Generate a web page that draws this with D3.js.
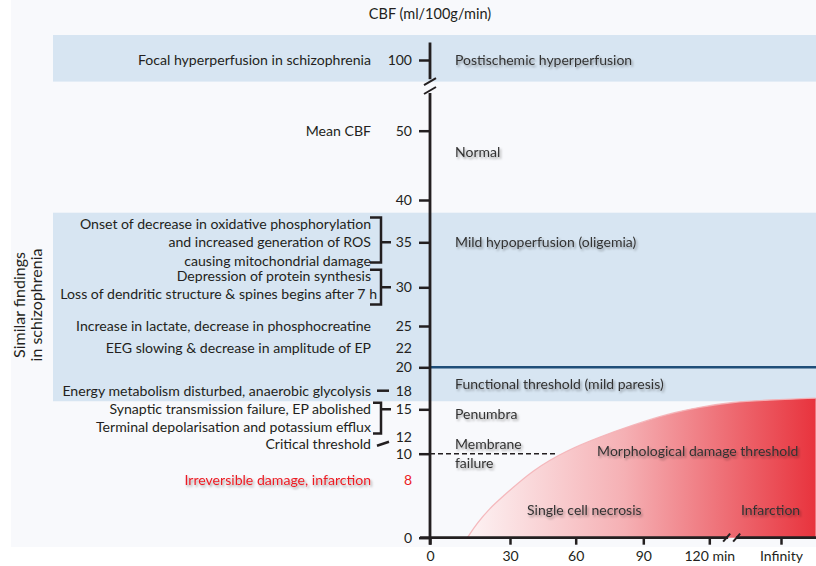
<!DOCTYPE html>
<html><head><meta charset="utf-8">
<script src="https://cdn.jsdelivr.net/npm/d3@7"></script>
<style>
body{margin:0;background:#fff}
svg{display:block}
text{font-family:Lato,"Open Sans",sans-serif}
</style>
</head><body>
<svg id="chart" width="816" height="566"></svg>
<script>
// ---------------- data ----------------
const yTickValues = [0, 10, 15, 20, 25, 30, 35, 40, 50, 100];
const yLabelOnlyValues = [8, 12, 18, 22];
const xTickValues = [0, 30, 60, 90, 120, 180];
const xTickLabels = ["0", "30", "60", "90", "120 min", "Infinity"];

// shaded CBF bands [low, high]
const bandLow = [16.3, 91];
const bandHigh = [38.5, 110];

// findings (left side), grouped by CBF level
const findingValues = [100, 50, 35, 30, 25, 22, 18, 15, 12, 8];
const findingTexts = [
  ["Focal hyperperfusion in schizophrenia"],
  ["Mean CBF"],
  ["Onset of decrease in oxidative phosphorylation", "and increased generation of ROS", "causing  mitochondrial damage"],
  ["Depression of protein synthesis", "Loss of dendritic structure & spines begins after 7 h"],
  ["Increase in lactate, decrease in phosphocreatine"],
  ["EEG slowing & decrease in amplitude of EP"],
  ["Energy metabolism disturbed, anaerobic glycolysis"],
  ["Synaptic transmission failure, EP abolished", "Terminal depolarisation and potassium efflux"],
  ["Critical threshold"],
  ["Irreversible damage, infarction"]
];

// zone labels (right of axis)
const zoneTexts = [["Postischemic hyperperfusion"], ["Normal"], ["Mild hypoperfusion (oligemia)"],
  ["Functional threshold (mild paresis)"], ["Penumbra"], ["Membrane", "failure"]];
const zoneValues = [100, 46.9, 35, 18.6, 14.5, 10];

// morphological damage threshold curve (time in min, CBF)
const thresholdTime = [14, 17.6, 22.5, 26.3, 40.5, 56, 70.8, 85.4, 100.8, 115.8, 139.8, 168.3, 209];
const thresholdCBF  = [0, 2.0, 4.1, 5.37, 8.8, 10.4, 12, 13.28, 14.49, 15.37, 16.18, 16.5, 16.8];

const regionTexts = ["Morphological damage threshold", "Single cell necrosis", "Infarction"];
const regionTime = [69.5, 37.8, 146.5];
const regionCBF = [10.3, 3.8, 3.8];

const functionalThreshold = 20;
const membraneFailure = 10;
const membraneLineTime = [0, 51.5];

// ---------------- scales ----------------
const W = 816, H = 566;
const svg = d3.select("#chart");
const y = d3.scaleLinear()
  .domain([0, 8, 10, 12, 15, 18, 20, 22, 25, 30, 35, 40, 50, 55, 90, 100, 110])
  .range([537.7, 480, 453.7, 436.7, 409.3, 390.7, 367.3, 348, 326, 287.3, 242.3, 200, 130.7, 93, 84, 60, 35]);
const x = d3.scaleLinear()
  .domain([0, 30, 60, 90, 120, 180])
  .range([430, 510, 575.7, 643.3, 709.3, 781]);
const ax = x(0);
const ink = "#231f20";
const fsL = 14.1, fsR = 14;

// ---------------- defs ----------------
const defs = svg.append("defs");
const grad = defs.append("linearGradient").attr("id", "redGrad")
  .attr("gradientUnits", "userSpaceOnUse")
  .attr("x1", x(thresholdTime[0])).attr("x2", W).attr("y1", 0).attr("y2", 0);
grad.append("stop").attr("offset", 0).attr("stop-color", "#fdf3f4");
grad.append("stop").attr("offset", 0.45).attr("stop-color", "#f5b0b4");
grad.append("stop").attr("offset", 1).attr("stop-color", "#e8333d");
const f = defs.append("filter").attr("id", "sh").attr("x", "-10%").attr("y", "-40%").attr("width", "130%").attr("height", "200%");
f.append("feDropShadow").attr("dx", 1.5).attr("dy", 2).attr("stdDeviation", 1.3)
  .attr("flood-color", "#000").attr("flood-opacity", 0.35);

// ---------------- background & bands ----------------
svg.append("rect").attr("x", 11).attr("y", 0).attr("width", W - 11).attr("height", 547).attr("fill", "#f8f9fc");
svg.selectAll("rect.band").data(bandLow).join("rect").attr("class", "band")
  .attr("x", 53).attr("width", W - 53)
  .attr("y", (d, i) => y(bandHigh[i]))
  .attr("height", (d, i) => y(d) - y(bandHigh[i]))
  .attr("fill", "#d7e5f2");

// ---------------- red damage area ----------------
const pts = thresholdTime.map((t, i) => [t, thresholdCBF[i]]);
svg.append("path").datum(pts)
  .attr("d", d3.area().x(d => x(d[0])).y0(y(0)).y1(d => y(d[1])).curve(d3.curveBasis))
  .attr("fill", "url(#redGrad)");
svg.append("path").datum(pts)
  .attr("d", d3.line().x(d => x(d[0])).y(d => y(d[1])).curve(d3.curveBasis))
  .attr("fill", "none").attr("stroke", "#f4b3b7").attr("stroke-width", 1.3).attr("opacity", 0.9);

// functional threshold line
svg.append("line").attr("x1", ax).attr("x2", W)
  .attr("y1", y(functionalThreshold)).attr("y2", y(functionalThreshold))
  .attr("stroke", "#1f4e79").attr("stroke-width", 2.5);
// membrane failure dashed line
svg.append("line").attr("x1", x(membraneLineTime[0])).attr("x2", x(membraneLineTime[1]))
  .attr("y1", y(membraneFailure)).attr("y2", y(membraneFailure))
  .attr("stroke", ink).attr("stroke-width", 1.5).attr("stroke-dasharray", "5,3");

// ---------------- axes ----------------
const yAx = svg.append("g").attr("transform", `translate(${ax},0)`)
  .call(d3.axisLeft(y).tickValues(yTickValues).tickSize(11).tickPadding(7));
const yAx2 = svg.append("g").attr("transform", `translate(${ax},0)`)
  .call(d3.axisLeft(y).tickValues(yLabelOnlyValues).tickSize(0).tickPadding(18));
yAx2.selectAll(".tick line").remove();
const xAx = svg.append("g").attr("transform", `translate(0,${y(0)})`)
  .call(d3.axisBottom(x).tickValues(xTickValues).tickFormat((d, i) => xTickLabels[i]).tickSize(7).tickPadding(6));
[yAx, yAx2, xAx].forEach(g => {
  g.select(".domain").remove();
  g.selectAll(".tick line").attr("stroke", ink).attr("stroke-width", 2.5);
  g.selectAll(".tick text").attr("fill", ink).attr("font-size", 14).attr("font-family", "Lato");
});
yAx2.selectAll(".tick text").filter(d => d === 8).attr("fill", "#ec1c24");

// axis lines with breaks
const axisG = svg.append("g").attr("stroke", ink).attr("stroke-width", 2.8).attr("fill", "none");
axisG.append("line").attr("x1", ax).attr("x2", ax).attr("y1", y(107)).attr("y2", y(92));
axisG.append("line").attr("x1", ax).attr("x2", ax).attr("y1", y(55)).attr("y2", y(0) + 7);
axisG.append("line").attr("x1", ax - 6).attr("x2", ax + 6).attr("y1", y(92) + 6).attr("y2", y(92) - 1).attr("stroke-width", 2);
axisG.append("line").attr("x1", ax - 6).attr("x2", ax + 6).attr("y1", y(55) + 1).attr("y2", y(55) - 6).attr("stroke-width", 2);
const breakA = (x(120) + x(180)) / 2 - 18, breakB = breakA + 10;
axisG.append("line").attr("x1", ax - 10).attr("x2", breakA + 1).attr("y1", y(0)).attr("y2", y(0));
axisG.append("line").attr("x1", breakB - 1).attr("x2", W).attr("y1", y(0)).attr("y2", y(0));
[breakA, breakB].forEach(b => axisG.append("line").attr("x1", b - 4).attr("x2", b + 3)
  .attr("y1", y(0) + 4).attr("y2", y(0) - 4).attr("stroke-width", 2));

// ---------------- title & side label ----------------
svg.append("text").attr("x", ax).attr("y", 14).attr("dy", "0.35em").attr("text-anchor", "middle")
  .attr("font-size", 14.5).attr("fill", ink).text("CBF (ml/100g/min)");
const side = svg.append("text").attr("transform", "translate(19,305) rotate(-90)")
  .attr("text-anchor", "middle").attr("font-size", 16).attr("fill", ink);
side.append("tspan").attr("x", 0).attr("dy", "0.35em").text("Similar findings");
side.append("tspan").attr("x", 0).attr("dy", "1.1em").text("in schizophrenia");

// ---------------- findings ----------------
const lh = 18.3;
const rightEdge = 371;
const shift = {15: 9, 12: 7, 30: -2};
const bracketBottomPad = {35: 2, 30: 10, 15: 6};
findingValues.forEach((v, gi) => {
  const lines = findingTexts[gi];
  const n = lines.length;
  const cy = y(v) + (shift[v] || 0);
  const ys = lines.map((l, i) => cy + (i - (n - 1) / 2) * lh);
  const red = v === 8;
  lines.forEach((l, i) => {
    const t = svg.append("text").attr("x", rightEdge + (l.endsWith("7 h") ? 6 : 0)).attr("y", ys[i]).attr("dy", "0.35em")
      .attr("text-anchor", "end").attr("font-size", fsL).attr("fill", red ? "#ec1c24" : ink).text(l);
    if (red) t.attr("filter", "url(#sh)");
  });
  if (v in bracketBottomPad) {
    const top = ys[0] - 6.5, bot = ys[n - 1] + bracketBottomPad[v], bx = 381, l0 = v === 15 ? 373 : 370;
    svg.append("path").attr("d", `M${l0},${top}H${bx}V${bot}H${l0}M${bx},${y(v)}H${bx + 10}`)
      .attr("fill", "none").attr("stroke", ink).attr("stroke-width", 2.5);
  }
});
// dash for 18 and slanted pointer for 12
svg.append("line").attr("x1", 377).attr("x2", 389).attr("y1", y(18)).attr("y2", y(18))
  .attr("stroke", ink).attr("stroke-width", 2.5);
svg.append("line").attr("x1", 377).attr("x2", 389).attr("y1", y(12) + 9).attr("y2", y(12) + 5)
  .attr("stroke", ink).attr("stroke-width", 2.5);

// ---------------- zone labels ----------------
zoneTexts.forEach((lines, gi) => {
  const n = lines.length;
  lines.forEach((l, i) => {
    svg.append("text").attr("x", ax + 25).attr("y", y(zoneValues[gi]) + (i - (n - 1) / 2) * 19)
      .attr("dy", "0.35em").attr("font-size", fsR).attr("fill", "#333").attr("filter", "url(#sh)").text(l);
  });
});
regionTexts.forEach((l, i) => {
  svg.append("text").attr("x", x(regionTime[i])).attr("y", y(regionCBF[i])).attr("dy", "0.35em")
    .attr("font-size", fsR).attr("fill", "#333").attr("filter", "url(#sh)").text(l);
});
</script>
</body></html>
